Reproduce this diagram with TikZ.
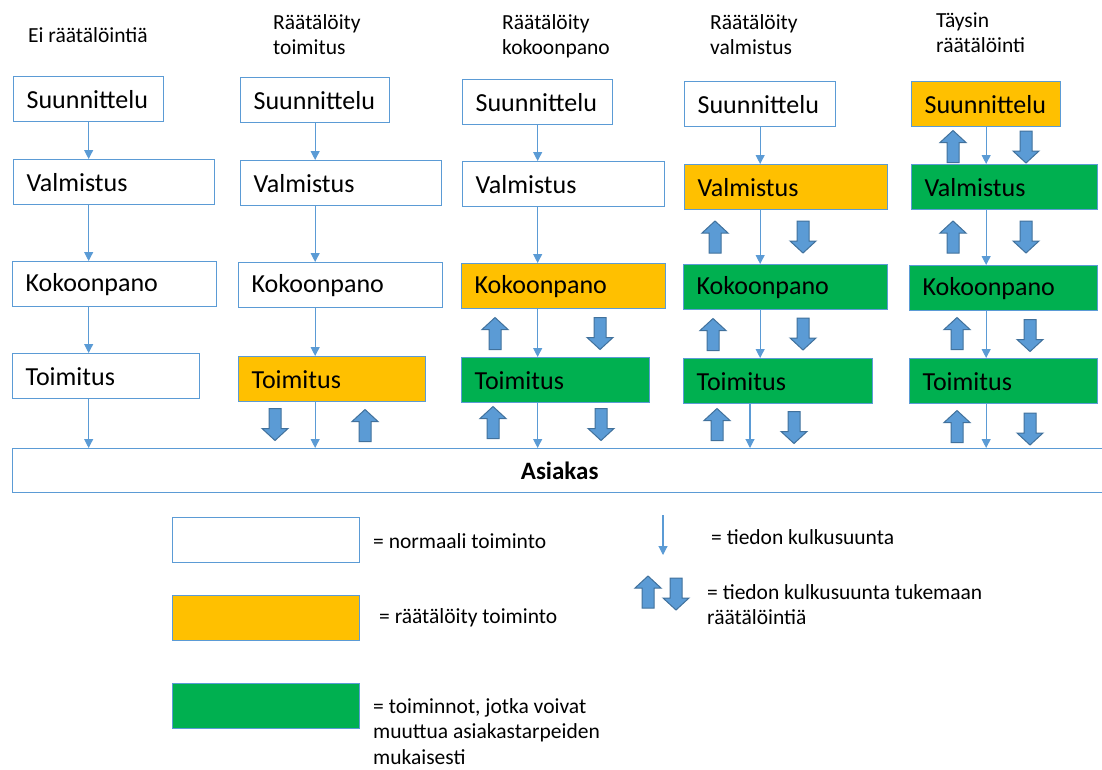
\documentclass[tikz,border=0pt]{standalone}
\usepackage{fontspec}
\setmainfont{Carlito}
\usetikzlibrary{arrows.meta}
\definecolor{lineblue}{RGB}{91,155,213}
\definecolor{darkblue}{RGB}{65,113,156}
\definecolor{custorange}{RGB}{255,192,0}
\definecolor{custgreen}{RGB}{0,176,80}

\newcommand{\stagebox}[6]{%
  \pgfmathsetmacro{\stagetw}{#4-26}%
  \node[stage,fill=#5,text width=\stagetw pt] (#1) at (#2,#3) {#6};}

\begin{document}
\begin{tikzpicture}[x=1pt,y=-1pt,
  stage/.style={draw=lineblue,line width=1.3pt,anchor=north west,minimum height=45pt,inner xsep=13pt,inner ysep=0pt,align=left,font=\fontsize{26}{30}\selectfont},
  flow/.style={draw=lineblue,line width=1.1pt,-{Triangle[width=9pt,length=9pt]}},
  fatarrow/.style={fill=lineblue,draw=darkblue,line width=1pt},
  title/.style={anchor=north west,inner sep=0pt,align=left,font=\fontsize{21.5}{25}\selectfont},
  legtext/.style={anchor=north west,inner sep=0pt,align=left,font=\fontsize{21.5}{25.5}\selectfont},
  legbox/.style={draw=lineblue,line width=1.3pt,anchor=north west,minimum width=187pt,minimum height=45pt},
  pics/fatdown/.style={code={\draw[fatarrow] (-6,-16) -- (6,-16) -- (6,4) -- (13,4) -- (0,16) -- (-13,4) -- (-6,4) -- cycle;}},
  pics/fatup/.style={code={\draw[fatarrow] (-6,16) -- (6,16) -- (6,-4) -- (13,-4) -- (0,-16) -- (-13,-4) -- (-6,-4) -- cycle;}}
]
\useasboundingbox (0,0) rectangle (1102,769);

% column titles
\node[title] (h1) at (28,27) {Ei räätälöintiä};
\node[title] (h2) at (273,14) {Räätälöity\\toimitus};
\node[title] (h3) at (502,14) {Räätälöity\\kokoonpano};
\node[title] (h4) at (710,14) {Räätälöity\\valmistus};
\node[title] (h5) at (936,13) {Täysin\\räätälöinti};

% stages
\stagebox{s1}{13}{76}{150}{white}{Suunnittelu}
\stagebox{v1}{13}{159}{201}{white}{Valmistus}
\stagebox{k1}{12}{261}{204}{white}{Kokoonpano}
\stagebox{t1}{12}{353}{187}{white}{Toimitus}

\stagebox{s2}{240}{77}{149}{white}{Suunnittelu}
\stagebox{v2}{240}{160}{201}{white}{Valmistus}
\stagebox{k2}{238}{262}{204}{white}{Kokoonpano}
\stagebox{t2}{238}{356}{187}{custorange}{Toimitus}

\stagebox{s3}{462}{79}{150}{white}{Suunnittelu}
\stagebox{v3}{462}{161}{202}{white}{Valmistus}
\stagebox{k3}{461}{263}{204}{custorange}{Kokoonpano}
\stagebox{t3}{461}{357}{188}{custgreen}{Toimitus}

\stagebox{s4}{684}{81}{151}{white}{Suunnittelu}
\stagebox{v4}{684}{164}{203}{custorange}{Valmistus}
\stagebox{k4}{683}{264}{204}{custgreen}{Kokoonpano}
\stagebox{t4}{683}{358}{189}{custgreen}{Toimitus}

\stagebox{s5}{911}{81}{149}{custorange}{Suunnittelu}
\stagebox{v5}{911}{164}{186}{custgreen}{Valmistus}
\stagebox{k5}{909}{265}{188}{custgreen}{Kokoonpano}
\stagebox{t5}{909}{358}{188}{custgreen}{Toimitus}

\node[draw=lineblue,line width=1.3pt,anchor=north west,minimum width=1094pt,minimum height=44pt,inner sep=0pt,font=\fontsize{25}{30}\selectfont\bfseries] (asiakas) at (12,448) {Asiakas};

% information flow
\foreach \c in {1,...,5} {
  \draw[flow] (s\c.south) -- (v\c.north -| s\c.south);
  \draw[flow] (v\c.south -| s\c.south) -- (k\c.north -| s\c.south);
  \draw[flow] (k\c.south -| s\c.south) -- (t\c.north -| s\c.south);
}
\foreach \c in {1,2,3,5}
  \draw[flow] (t\c.south -| s\c.south) -- (asiakas.north -| s\c.south);
\coordinate (t4out) at (750,0);
\draw[flow] (t4.south -| t4out) -- (asiakas.north -| t4out);

% support arrows
\foreach \x/\y in {365/425.5, 495/333.5, 493/422.5, 715/237, 713/334.5, 717/424.5, 953/146.5, 953/237, 957/333.5, 957/426.5, 648/592}
  \pic at (\x,\y) {fatup};
\foreach \x/\y in {275/424.5, 600/333.5, 601/424.5, 803/237, 803/334, 794/427.5, 1026/147, 1026/237, 1030/335.5, 1030/429, 676/594}
  \pic at (\x,\y) {fatdown};

% legend
\node[legbox] (lgnormal) at (172,517) {};
\node[legbox,fill=custorange] (lgcustom) at (172,595) {};
\node[legbox,fill=custgreen] (lgvariable) at (172,683) {};
\node[legtext] (lgnormaltxt) at (373,533) {= normaali toiminto};
\node[legtext] (lgcustomtxt) at (379,608) {= räätälöity toiminto};
\node[legtext] (lgvariabletxt) at (373,698) {= toiminnot, jotka voivat\\muuttua asiakastarpeiden\\mukaisesti};

\coordinate (lgflowtop) at (663,515);
\coordinate (lgflowend) at (663,555);
\draw[flow] (lgflowtop) -- (lgflowend);
\node[legtext] (lgflowtxt) at (711,529) {= tiedon kulkusuunta};
\node[legtext] (lgsupporttxt) at (707,584) {= tiedon kulkusuunta tukemaan\\räätälöintiä};
\end{tikzpicture}
\end{document}
